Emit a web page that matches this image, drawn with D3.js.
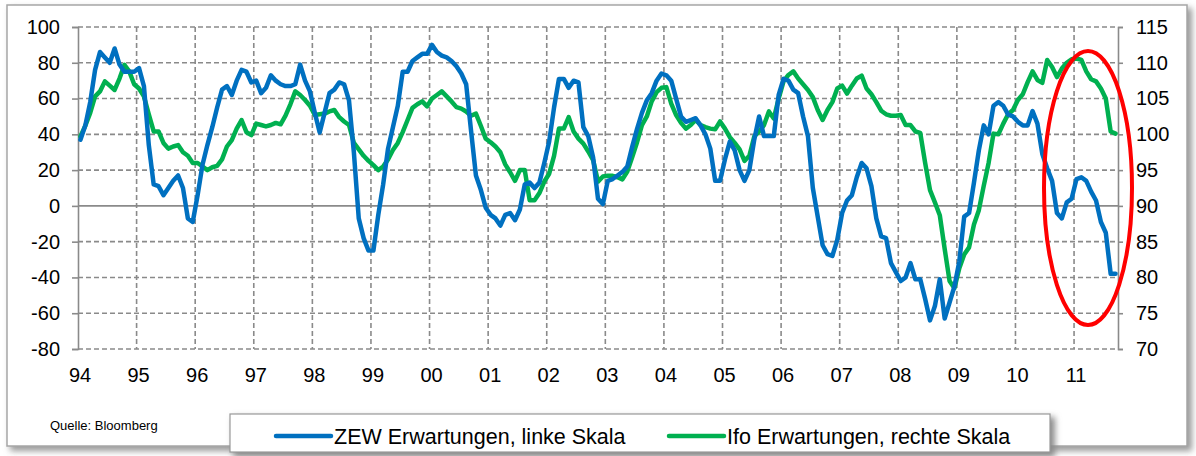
<!DOCTYPE html>
<html>
<head>
<meta charset="utf-8">
<script src="https://cdn.jsdelivr.net/npm/d3@7"></script>
<style>
body { margin: 0; background: #fff; }
svg { display: block; font-family: "Liberation Sans", Arial, sans-serif; }
</style>
</head>
<body>
<svg id="mainSvg" width="1196" height="456"></svg>
<script>
// year labels, one per January (monthly data from Jan 1994)
var years = ["94", "95", "96", "97", "98", "99", "00", "01", "02", "03", "04", "05", "06", "07", "08", "09", "10", "11"];

// ZEW Erwartungen (left scale), monthly
var zew = [
	37, 45, 58, 76, 86, 83, 80, 88, 79, 75, 75, 75,
	77, 67, 34, 12, 11, 6, 10, 14, 17, 10, -7, -9,
	6, 23, 34, 44, 55, 65, 67, 62, 70, 76, 75, 69,
	70, 63, 66, 73, 70, 68, 67, 67, 68, 79, 70, 64,
	52, 41, 52, 63, 65, 69, 68, 59, 30, -7, -18, -25,
	-25, -5, 12, 32, 44, 56, 75, 75, 81, 83, 85, 85,
	90, 86, 84, 83, 81, 78, 74, 68, 42, 17, 9, -1,
	-5, -7, -11, -5, -4, -8, -2, 12, 13, 10, 13, 24,
	36, 55, 71, 71, 66, 70, 69, 44, 39, 27, 4, 1,
	14, 15, 17, 19, 22, 33, 43, 52, 59, 63, 70, 74,
	73, 70, 60, 50, 47, 48, 49, 45, 40, 32, 14, 14,
	26, 36, 31, 20, 14, 20, 37, 50, 39, 39, 39, 62,
	71, 70, 65, 63, 50, 39, 10, -6, -22, -27, -28, -19,
	-4, 3, 6, 16, 24, 21, 11, -7, -17, -18, -32, -37,
	-42, -40, -32, -41, -41, -52, -64, -56, -41, -63, -54, -45,
	-31, -6, -4, 13, 31, 45, 40, 56, 58, 56, 51, 50,
	47, 45, 45, 53, 46, 29, 21, 14, -4, -7, 2, 4,
	15, 16, 14, 8, 3, -9, -15, -38, -38
];

// Ifo Erwartungen (right scale), monthly
var ifo = [
	99.7, 101.2, 103, 105.3, 106, 107.4, 106.8, 106.2, 107.8, 109.7, 108.8, 107,
	106.4, 105.3, 102.8, 100.4, 100.4, 98.8, 98, 98.3, 98.5, 97.5, 97, 96,
	96, 95.5, 95, 95.4, 95.6, 96.5, 98.3, 99.2, 100.8, 102, 100.3, 99.9,
	101.5, 101.3, 101.1, 101.3, 101.6, 101.4, 102.6, 104.2, 106, 105.5, 104.8, 104,
	102.7, 102.8, 102.9, 103.2, 103.4, 102.4, 101.8, 101.3, 98.8, 97.9, 97, 96.3,
	95.7, 95, 95.5, 96.5, 97.8, 98.8, 100.3, 102, 103.7, 104.2, 104.6, 103.9,
	105, 105.5, 106, 105.3, 104.6, 103.8, 103.6, 103.2, 102.6, 102.9, 101.2, 99.4,
	98.9, 98.3, 97.5, 95.8, 94.7, 93.5, 95, 95, 90.8, 90.8, 91.8, 93.4,
	94.5, 97, 100.8, 100.8, 102.4, 100.4, 99.4, 98.7, 97.6, 96.4, 93.4, 94.1,
	94.2, 94.2, 94, 93.7, 94.8, 96.8, 98.9, 101.3, 102.5, 104.6, 105.9, 106.5,
	106.6, 104.3, 102.7, 101.6, 100.8, 101.3, 102, 101.3, 101, 100.8, 100.7, 101.8,
	100.8, 99.6, 98.8, 97.9, 96.3, 97, 99.7, 100.4, 101.3, 103.2, 102.2, 105,
	107.4, 108.3, 108.8, 107.8, 107, 106.2, 105.2, 103.4, 102, 103.4, 104.5, 106.4,
	106.8, 105.7, 106.8, 107.8, 108.2, 106.4, 105.6, 104.5, 103.3, 102.8, 102.6, 102.6,
	102.7, 101.3, 101.3, 100.4, 100.2, 96, 92.2, 90.5, 88.7, 84, 79.5, 78.5,
	81.3, 83.2, 84.2, 87.4, 89.4, 92.8, 96, 100.1, 100, 101.5, 102.8, 103.4,
	104.8, 105.6, 107.3, 108.8, 107.6, 107.2, 110.4, 109.4, 108, 109.2, 110, 110.5,
	110.6, 110.4, 108.8, 107.7, 107.4, 106.4, 105, 100.4, 100.1
];

var leftTicks = [-80, -60, -40, -20, 0, 20, 40, 60, 80, 100];
var rightTicks = [70, 75, 80, 85, 90, 95, 100, 105, 110, 115];
var seriesNames = ["ZEW Erwartungen, linke Skala", "Ifo Erwartungen, rechte Skala"];
var seriesColors = ["#0070c0", "#00b050"];

var plot = {left: 78, right: 1118, top: 27, bottom: 349};
var gridCol = "#8a8a8a";

var mainSvg = d3.select("#mainSvg");
var defs = mainSvg.append("defs");
var blur = defs.append("filter").attr("id", "shadow").attr("x", "-5%").attr("y", "-20%").attr("width", "110%").attr("height", "140%");
blur.append("feGaussianBlur").attr("stdDeviation", 3);

// outer frame with soft shadow
mainSvg.append("rect").attr("x", 10).attr("y", 8).attr("width", 1182).attr("height", 443).attr("fill", "#9a9a9a").attr("filter", "url(#shadow)");
mainSvg.append("rect").attr("x", 7).attr("y", 5).attr("width", 1180).attr("height", 441).attr("fill", "#fff").attr("stroke", "#a6a6a6").attr("stroke-width", 1.5);

var x = d3.scaleLinear().domain([0, zew.length]).range([plot.left, plot.right]);
var yL = d3.scaleLinear().domain([-80, 100]).range([plot.bottom, plot.top]);
var yR = d3.scaleLinear().domain([70, 115]).range([plot.bottom, plot.top]);

// horizontal grid lines (0 is the solid category axis)
mainSvg.selectAll(".hgrid").data(leftTicks.filter(function(d) { return d != 0; })).enter().append("line")
	.attr("x1", plot.left).attr("x2", plot.right)
	.attr("y1", function(d) { return yL(d); }).attr("y2", function(d) { return yL(d); })
	.attr("stroke", gridCol).attr("stroke-width", 1.6).attr("stroke-dasharray", "5,3");

// vertical grid lines at each January
mainSvg.selectAll(".vgrid").data(years.slice(1)).enter().append("line")
	.attr("x1", function(d, i) { return x((i + 1) * 12); }).attr("x2", function(d, i) { return x((i + 1) * 12); })
	.attr("y1", plot.top).attr("y2", plot.bottom)
	.attr("stroke", gridCol).attr("stroke-width", 1.6).attr("stroke-dasharray", "5,3");

// axes (plain hyphen for negatives, as in the original)
var plain = function(d) { return String(d); };
var axisL = mainSvg.append("g").attr("transform", "translate(" + plot.left + ",0)")
	.call(d3.axisLeft(yL).tickValues(leftTicks).tickFormat(plain).tickSize(6).tickPadding(12));
var axisR = mainSvg.append("g").attr("transform", "translate(" + plot.right + ",0)")
	.call(d3.axisRight(yR).tickValues(rightTicks).tickFormat(plain).tickSize(5).tickPadding(13));
[axisL, axisR].forEach(function(a) {
	a.select(".domain").attr("stroke", gridCol).attr("stroke-width", 1.6);
	a.selectAll(".tick line").attr("stroke", gridCol).attr("stroke-width", 1.6);
	a.selectAll("text").attr("font-size", "20px").attr("fill", "#000").attr("font-family", "Liberation Sans, Arial, sans-serif");
});
mainSvg.append("line").attr("x1", plot.left).attr("x2", plot.right).attr("y1", yL(0)).attr("y2", yL(0))
	.attr("stroke", gridCol).attr("stroke-width", 1.6);

// year labels
mainSvg.selectAll(".ylab").data(years).enter().append("text")
	.attr("x", function(d, i) { return x(i * 12) + 2; }).attr("y", 382)
	.attr("text-anchor", "middle").attr("font-size", "20px").text(function(d) { return d; });

// series
var lineL = d3.line().x(function(d, i) { return x(i + 0.5); }).y(function(d) { return yL(d); });
var lineR = d3.line().x(function(d, i) { return x(i + 0.5); }).y(function(d) { return yR(d); });
mainSvg.append("path").attr("d", lineR(ifo)).attr("fill", "none").attr("stroke", seriesColors[1])
	.attr("stroke-width", 4.5).attr("stroke-linejoin", "round").attr("stroke-linecap", "round");
mainSvg.append("path").attr("d", lineL(zew)).attr("fill", "none").attr("stroke", seriesColors[0])
	.attr("stroke-width", 4.5).attr("stroke-linejoin", "round").attr("stroke-linecap", "round");

// red marker round the last months
mainSvg.append("ellipse").attr("cx", 1088).attr("cy", 188).attr("rx", 44).attr("ry", 137)
	.attr("fill", "none").attr("stroke", "#ff0000").attr("stroke-width", 4);

// source
mainSvg.append("text").attr("x", 50).attr("y", 430).attr("font-size", "13px").text("Quelle: Bloomberg");

// legend box
mainSvg.append("rect").attr("x", 233).attr("y", 417).attr("width", 822).attr("height", 40).attr("fill", "#8a8a8a").attr("filter", "url(#shadow)");
mainSvg.append("rect").attr("x", 230).attr("y", 414).attr("width", 820).attr("height", 38).attr("fill", "#fff").attr("stroke", "#999").attr("stroke-width", 1.2);
var legX = [276, 669];
seriesNames.forEach(function(name, i) {
	mainSvg.append("line").attr("x1", legX[i]).attr("x2", legX[i] + 55).attr("y1", 436).attr("y2", 436)
		.attr("stroke", seriesColors[i]).attr("stroke-width", 4.5).attr("stroke-linecap", "round");
	mainSvg.append("text").attr("x", legX[i] + 58).attr("y", 443.5).attr("font-size", "21.5px").text(name);
});
</script>
</body>
</html>
